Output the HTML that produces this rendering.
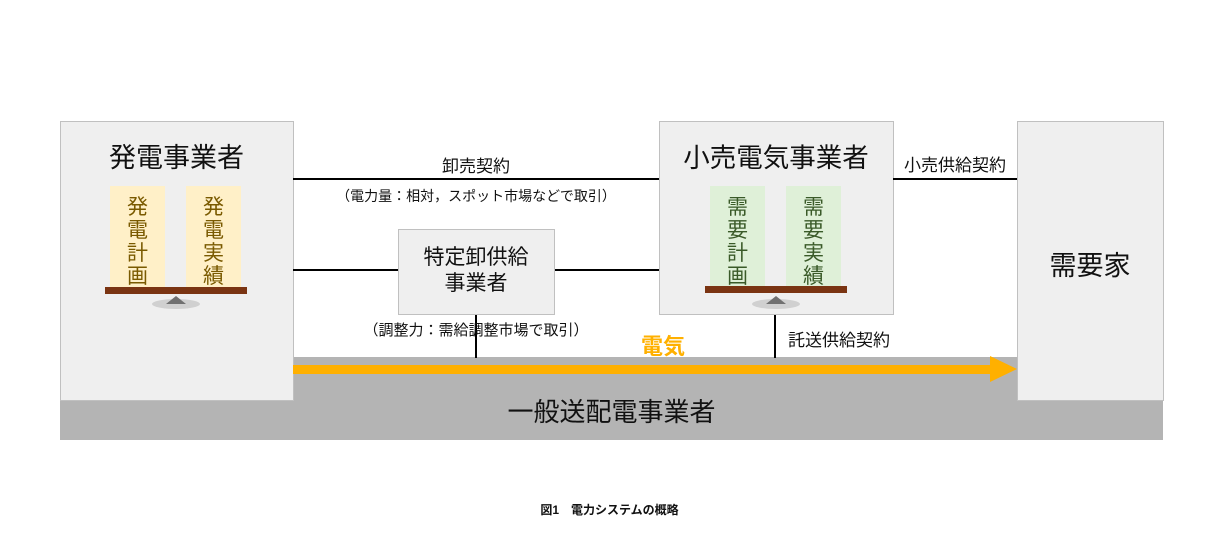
<!DOCTYPE html>
<html><head><meta charset="utf-8"><style>
body{margin:0;width:1219px;height:556px;background:#fff;position:relative;overflow:hidden;font-family:"Liberation Sans","Noto Sans CJK JP",sans-serif;color:#111}
.a{position:absolute}
.box{position:absolute;background:#efefef;border:1px solid #c0c0c0;box-sizing:border-box}
.ln{position:absolute;background:#000}
.t{position:absolute;white-space:nowrap;text-align:center}
.p{position:absolute;width:55px;height:101px;font-size:21px;line-height:23px;text-align:center;padding-top:10px;box-sizing:border-box}
.y{background:#fff0c8;color:#7a5a00}
.g{background:#dff0d8;color:#3a5a28}
.bar{position:absolute;height:7px;background:#7a3412}
</style></head><body>
<div class="a" style="left:60px;top:357px;width:1103px;height:83px;background:#b4b4b4"></div>
<div class="t" style="left:60px;top:392px;width:1103px;font-size:26px">一般送配電事業者</div>
<div class="box" style="left:60px;top:121px;width:234px;height:280px"></div>
<div class="box" style="left:1017px;top:121px;width:147px;height:280px"></div>
<div class="box" style="left:659px;top:121px;width:235px;height:194px"></div>
<div class="box" style="left:398px;top:229px;width:157px;height:86px"></div>

<div class="t" style="left:60px;top:136px;width:233px;font-size:27px">発電事業者</div>
<div class="t" style="left:659px;top:136px;width:234px;font-size:26.5px">小売電気事業者</div>
<div class="t" style="left:1017px;top:244px;width:146px;font-size:27px">需要家</div>
<div class="t" style="left:398px;top:245px;width:156px;font-size:21px;line-height:26px">特定卸供給<br>事業者</div>

<div class="p y" style="left:110px;top:186px">発<br>電<br>計<br>画</div>
<div class="p y" style="left:186px;top:186px">発<br>電<br>実<br>績</div>
<div class="bar" style="left:105px;top:287px;width:142px"></div>
<div class="a" style="left:152px;top:299px;width:48px;height:10px;border-radius:50%;background:#d0d0d0"></div>
<div class="a" style="left:166px;top:296px;width:0;height:0;border-left:10px solid transparent;border-right:10px solid transparent;border-bottom:8px solid #707070"></div>

<div class="p g" style="left:710px;top:186px">需<br>要<br>計<br>画</div>
<div class="p g" style="left:786px;top:186px">需<br>要<br>実<br>績</div>
<div class="bar" style="left:705px;top:286px;width:142px"></div>
<div class="a" style="left:752px;top:299px;width:48px;height:10px;border-radius:50%;background:#d0d0d0"></div>
<div class="a" style="left:766px;top:296px;width:0;height:0;border-left:10px solid transparent;border-right:10px solid transparent;border-bottom:8px solid #707070"></div>

<div class="ln" style="left:293px;top:178px;width:366px;height:2px"></div>
<div class="ln" style="left:293px;top:269px;width:105px;height:2px"></div>
<div class="ln" style="left:555px;top:269px;width:104px;height:2px"></div>
<div class="ln" style="left:893px;top:178px;width:124px;height:2px"></div>
<div class="ln" style="left:475px;top:315px;width:2px;height:43px"></div>
<div class="ln" style="left:774px;top:315px;width:2px;height:43px"></div>

<div class="t" style="left:293px;top:152px;width:366px;font-size:17px">卸売契約</div>
<div class="t" style="left:293px;top:186px;width:366px;font-size:14px">（電力量：相対，スポット市場などで取引）</div>
<div class="t" style="left:293px;top:319px;width:366px;font-size:15px">（調整力：需給調整市場で取引）</div>
<div class="t" style="left:893px;top:151px;width:124px;font-size:17px">小売供給契約</div>
<div class="t" style="left:788px;top:326px;font-size:17px">託送供給契約</div>
<div class="t" style="left:641px;top:329px;font-size:22px;font-weight:bold;color:#ffb000">電気</div>

<div class="a" style="left:293px;top:365px;width:698px;height:9px;background:#ffb000"></div>
<div class="a" style="left:990px;top:356px;width:0;height:0;border-top:13.5px solid transparent;border-bottom:13.5px solid transparent;border-left:27px solid #ffb000"></div>

<div class="t" style="left:0;top:501px;width:1219px;font-size:12px;font-weight:bold">図1　電力システムの概略</div>
</body></html>
